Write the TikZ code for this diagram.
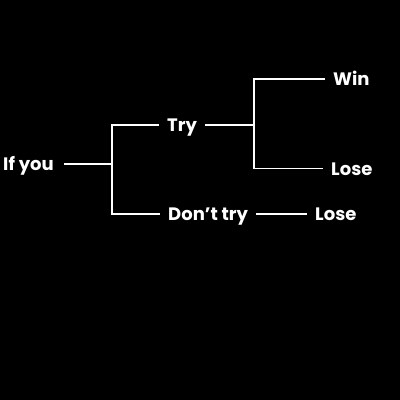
\documentclass[tikz,border=0pt]{standalone}
\usepackage{fontspec}
\setmainfont{Poppins}
\begin{document}
\begin{tikzpicture}[x=1pt,y=-1pt,
  lbl/.style={anchor=base west,text=white,font=\bfseries\fontsize{18}{20}\selectfont,
    inner xsep=8pt,inner ysep=0pt,text height=13pt,text depth=0pt},
  conn/.style={draw=white,line width=1.4pt}]
\fill[black] (0,0) rectangle (400,400);
\useasboundingbox (0,0) rectangle (400,400);
\node[lbl,inner xsep=10pt] (ifyou) at (-7,170.5) {If you};
\node[lbl] (try) at (159,131.3) {Try};
\node[lbl] (donttry) at (160,220.3) {Don’t try};
\node[lbl] (win) at (325,85.3) {Win};
\node[lbl] (lose1) at (323,175) {Lose};
\node[lbl] (lose2) at (307,220.3) {Lose};
\coordinate (j1) at (112,164);
\coordinate (j2) at (254,124);
\draw[conn] (ifyou.east) -- (ifyou.east -| j1);
\draw[conn] (try.west) -| (j1) |- (donttry.west);
\draw[conn] (try.east) -- (try.east -| j2);
\draw[conn] (win.west) -| (j2) |- (lose1.west);
\draw[conn] (donttry.east) -- (lose2.west);
\end{tikzpicture}
\end{document}
